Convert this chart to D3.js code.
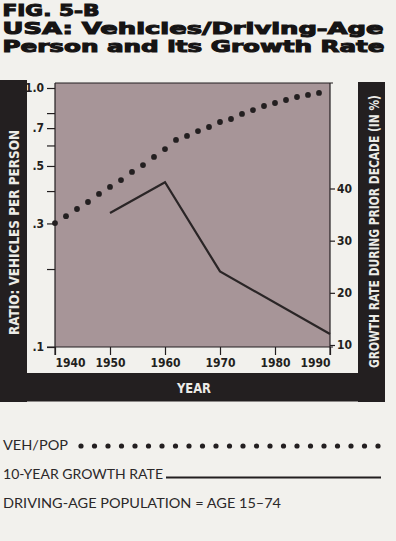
<!DOCTYPE html>
<html>
<head>
<meta charset="utf-8">
<script src="https://cdn.jsdelivr.net/npm/d3@7"></script>
<style>
  body { margin: 0; background: #f2f1ed; }
  svg { display: block; }
</style>
</head>
<body>
<div id="graph"></div>
<script>
// data
const vehYears = [1940, 1942, 1944, 1946, 1948, 1950, 1952, 1954, 1956, 1958, 1960, 1962, 1964,
  1966, 1968, 1970, 1972, 1974, 1976, 1978, 1980, 1982, 1984, 1986, 1988];
const vehPerPerson = [0.301, 0.320, 0.341, 0.363, 0.390, 0.415, 0.441, 0.474, 0.504, 0.542, 0.581, 0.630, 0.653,
  0.682, 0.707, 0.739, 0.759, 0.794, 0.822, 0.852, 0.875, 0.899, 0.923, 0.940, 0.957];
const growthYears = [1950, 1960, 1970, 1990];
const growthRate = [35.3, 41.2, 24.1, 12.1];

const yearTicks = [1940, 1950, 1960, 1970, 1980, 1990];
const ratioTicks = [0.1, 0.2, 0.3, 0.4, 0.5, 0.6, 0.7, 0.8, 1.0];
const ratioLabels = [0.1, 0.3, 0.5, 0.7, 1.0];
const growthTicks = [10, 20, 30, 40];

const titleLines = ["FIG. 5-B", "USA: Vehicles/Driving-Age", "Person and its Growth Rate"];
const leftLabel = "RATIO: VEHICLES PER PERSON";
const rightLabel = "GROWTH RATE DURING PRIOR DECADE (IN %)";
const bottomLabel = "YEAR";
const legendVeh = "VEH/POP";
const legendGrowth = "10-YEAR GROWTH RATE";
const footNote = "DRIVING-AGE POPULATION = AGE 15–74";

const ink = '#231f20';
const plotFill = '#a79598';
const stripText = '#ecebe7';
const narrow = '"Liberation Sans Narrow", "DejaVu Sans Condensed", sans-serif';

const width = 396;
const height = 541;

let dimensions = {
  left: 55,
  right: 330,
  top: 83,
  bottom: 347,
}

function drawChart() {
  const wrapper = d3.select("#graph")
    .append("svg")
    .attr("width", width)
    .attr("height", height);

  // title
  const title = wrapper.append("g")
    .attr("fill", "#161414")
    .attr("stroke", "#161414")
    .attr("stroke-width", 1)
    .attr("font-family", '"DejaVu Sans", sans-serif')
    .attr("font-weight", "bold")
    .attr("font-size", 15.5);
  const titleLengths = [97, 381, 382];
  titleLines.forEach((t, i) => {
    title.append("text")
      .attr("x", 2.5)
      .attr("y", 16 + i * 18)
      .attr("textLength", titleLengths[i])
      .attr("lengthAdjust", "spacingAndGlyphs")
      .text(t);
  });

  // black frame
  const frame = wrapper.append("g");
  frame.append("rect").attr("x", 0).attr("y", 80).attr("width", 27).attr("height", 322).attr("fill", ink);
  frame.append("rect").attr("x", 358).attr("y", 82).attr("width", 27).attr("height", 320).attr("fill", ink);
  frame.append("rect").attr("x", 0).attr("y", 373).attr("width", 385).attr("height", 28.5).attr("fill", ink);

  const xScaler = d3.scaleLinear()
    .domain([1940, 1990])
    .range([dimensions.left, dimensions.right]);

  const yScaler = d3.scaleLog()
    .domain([0.1, 1.0])
    .range([dimensions.bottom, 88]);

  const gScaler = d3.scaleLinear()
    .domain([10, 40])
    .range([345, 188.5]);

  // plot area
  wrapper.append("rect")
    .attr("x", dimensions.left)
    .attr("y", dimensions.top)
    .attr("width", dimensions.right - dimensions.left)
    .attr("height", dimensions.bottom - dimensions.top)
    .attr("fill", plotFill);

  wrapper.append("line")
    .attr("x1", dimensions.left).attr("x2", dimensions.right + 3)
    .attr("y1", dimensions.top).attr("y2", dimensions.top)
    .attr("stroke", ink).attr("stroke-width", 1.2);
  wrapper.append("line")
    .attr("x1", dimensions.left).attr("x2", dimensions.left)
    .attr("y1", dimensions.top).attr("y2", dimensions.bottom + 8)
    .attr("stroke", ink).attr("stroke-width", 1.2);
  wrapper.append("line")
    .attr("x1", dimensions.right).attr("x2", dimensions.right)
    .attr("y1", dimensions.top).attr("y2", dimensions.bottom + 8)
    .attr("stroke", ink).attr("stroke-width", 1.2);

  const ratioFormat = d => d === 1 ? "1.0" : d3.format(".1f")(d).replace(/^0/, "");

  const yAxisGen = d3.axisLeft()
    .scale(yScaler)
    .tickValues(ratioTicks)
    .tickSize(8)
    .tickSizeOuter(0)
    .tickPadding(3)
    .tickFormat(d => ratioLabels.includes(d) ? ratioFormat(d) : "");

  const xAxisGen = d3.axisBottom()
    .scale(xScaler)
    .tickValues(yearTicks)
    .tickSize(8)
    .tickSizeOuter(0)
    .tickPadding(3)
    .tickFormat(d3.format("d"));

  const gAxisGen = d3.axisRight()
    .scale(gScaler)
    .tickValues(growthTicks)
    .tickSize(5)
    .tickSizeOuter(0)
    .tickPadding(2);

  const styleAxis = (g) => {
    g.select(".domain").remove();
    g.selectAll(".tick line").attr("stroke", ink).attr("stroke-width", 1.2);
    g.selectAll(".tick text")
      .attr("fill", ink)
      .attr("font-family", narrow)
      .attr("font-weight", "bold")
      .attr("font-size", 12);
  };

  wrapper.append("g")
    .attr("transform", `translate(${dimensions.left},0)`)
    .call(yAxisGen)
    .call(styleAxis);

  const xAxis = wrapper.append("g")
    .attr("transform", `translate(0,${dimensions.bottom})`)
    .call(xAxisGen)
    .call(styleAxis);
  xAxis.selectAll(".tick text")
    .attr("text-anchor", d => d === 1940 ? "start" : d === 1990 ? "end" : "middle");

  wrapper.append("line")
    .attr("x1", dimensions.left - 8).attr("x2", dimensions.right + 3)
    .attr("y1", dimensions.bottom).attr("y2", dimensions.bottom)
    .attr("stroke", ink).attr("stroke-width", 1.2);

  wrapper.append("g")
    .attr("transform", `translate(${dimensions.right},0)`)
    .call(gAxisGen)
    .call(styleAxis);

  // growth rate line
  const growthData = growthYears.map((y, i) => ({ year: y, value: growthRate[i] }));
  const lineGen = d3.line()
    .x(d => xScaler(d.year))
    .y(d => gScaler(d.value));
  wrapper.append("path")
    .datum(growthData)
    .attr("d", lineGen)
    .attr("fill", "none")
    .attr("stroke", "#2a2526")
    .attr("stroke-width", 2.2)
    .attr("stroke-linejoin", "miter");

  // vehicles per person dots
  const vehData = vehYears.map((y, i) => ({ year: y, value: vehPerPerson[i] }));
  wrapper.append("g")
    .selectAll("circle")
    .data(vehData)
    .enter()
    .append("circle")
    .attr("cx", d => xScaler(d.year))
    .attr("cy", d => yScaler(d.value))
    .attr("r", 2.9)
    .attr("fill", ink);

  // strip labels
  const stripLabel = (text, x, y, len, rotate) => {
    wrapper.append("text")
      .attr("transform", `translate(${x},${y})` + (rotate ? " rotate(-90)" : ""))
      .attr("text-anchor", "middle")
      .attr("fill", stripText)
      .attr("font-family", narrow)
      .attr("font-weight", "bold")
      .attr("font-size", 14)
      .attr("textLength", len)
      .attr("lengthAdjust", "spacingAndGlyphs")
      .text(text);
  };
  stripLabel(leftLabel, 18.5, 232.5, 205, true);
  stripLabel(rightLabel, 379, 231.5, 273, true);
  stripLabel(bottomLabel, 194, 393, 34, false);

  // legend
  const legend = wrapper.append("g")
    .attr("fill", "#2b2829")
    .attr("font-family", '"Lato", "Noto Sans", sans-serif')
    .attr("font-size", 13.5);

  legend.append("text")
    .attr("x", 3).attr("y", 450)
    .attr("textLength", 65).attr("lengthAdjust", "spacingAndGlyphs")
    .text(legendVeh);

  const swatch = d3.scaleLinear().domain([0, 22]).range([81, 378]);
  legend.append("g")
    .selectAll("circle")
    .data(d3.range(23))
    .enter()
    .append("circle")
    .attr("cx", d => swatch(d))
    .attr("cy", 446)
    .attr("r", 2.6)
    .attr("fill", ink);

  legend.append("text")
    .attr("x", 3).attr("y", 478.5)
    .attr("textLength", 160).attr("lengthAdjust", "spacingAndGlyphs")
    .text(legendGrowth);

  legend.append("line")
    .attr("x1", 166).attr("x2", 381)
    .attr("y1", 477.5).attr("y2", 477.5)
    .attr("stroke", ink).attr("stroke-width", 1.8);

  legend.append("text")
    .attr("x", 3).attr("y", 507.5)
    .attr("textLength", 278).attr("lengthAdjust", "spacingAndGlyphs")
    .text(footNote);
}

drawChart()
</script>
</body>
</html>
